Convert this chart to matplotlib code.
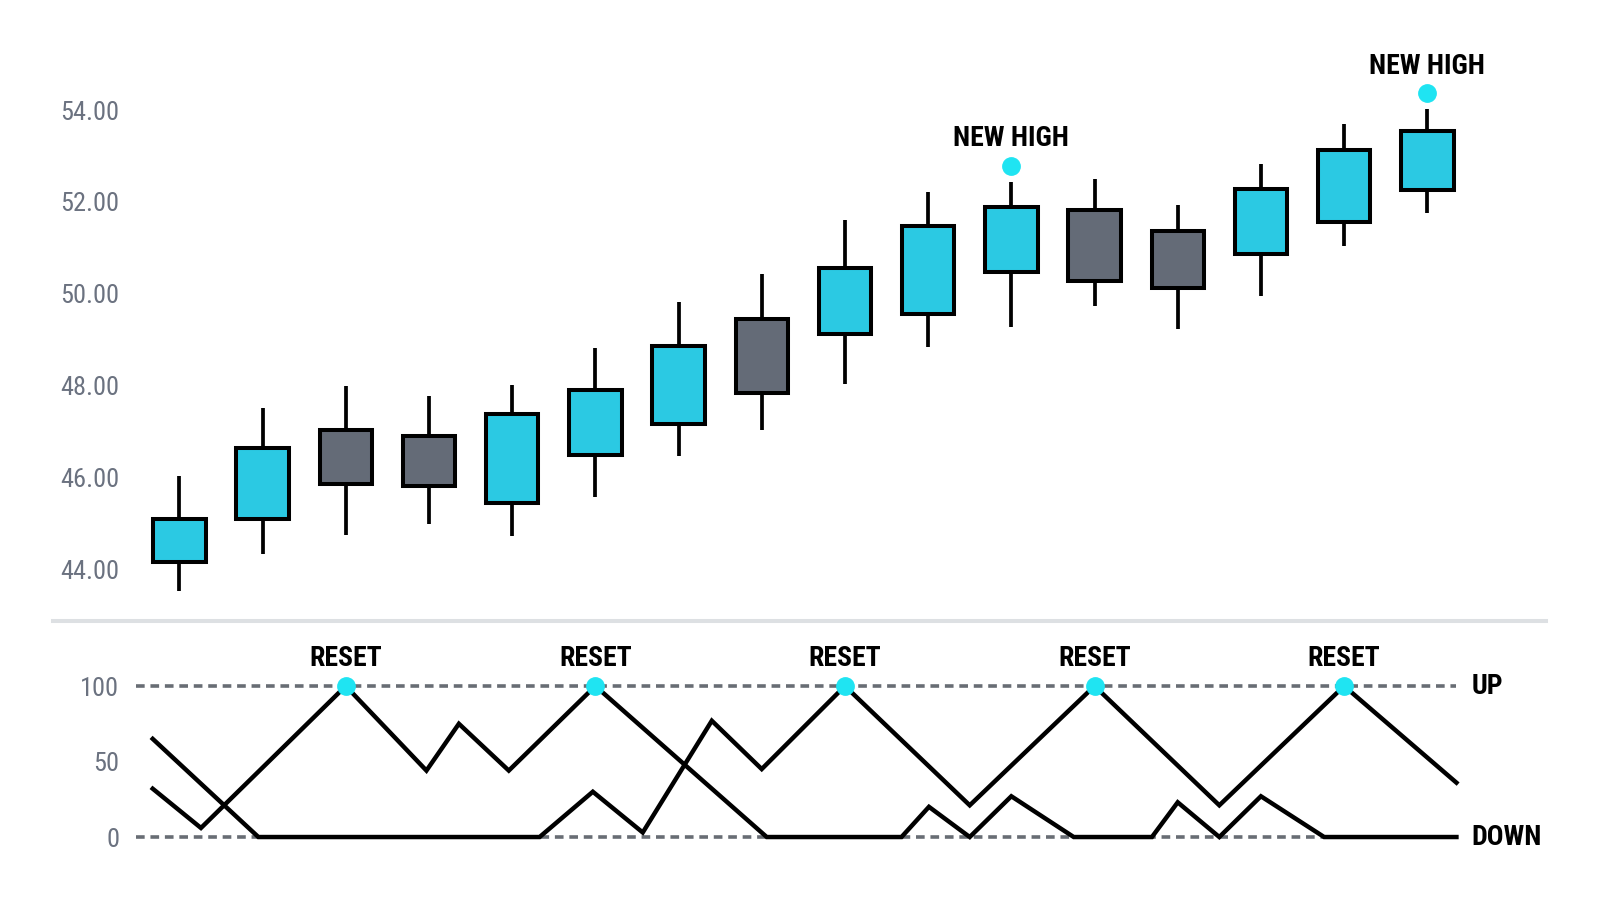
import matplotlib
matplotlib.use("Agg")
import matplotlib.pyplot as plt
from matplotlib.lines import Line2D
from matplotlib import font_manager

# candles
opens  = [44.15, 45.10, 47.04, 46.91, 45.45, 46.48, 47.17, 49.44, 49.12, 49.55, 50.48, 51.82, 51.36, 50.87, 51.57, 52.27]
closes = [45.10, 46.64, 45.86, 45.81, 47.37, 47.90, 48.86, 47.83, 50.56, 51.47, 51.89, 50.28, 50.12, 52.29, 53.13, 53.55]
highs  = [46.03, 47.50, 48.00, 47.78, 48.01, 48.81, 49.83, 50.42, 51.60, 52.22, 52.44, 52.50, 51.93, 52.82, 53.69, 54.02]
lows   = [43.52, 44.34, 44.75, 44.98, 44.72, 45.57, 46.46, 47.03, 48.04, 48.84, 49.28, 49.73, 49.23, 49.95, 51.04, 51.76]
new_high_idx = [10, 15]
price_ticks = [44, 46, 48, 50, 52, 54]

# oscillator lines (x in candle index units)
line_a_x = [-0.32, 0.95, 4.33, 4.97, 5.57, 6.40, 7.00, 8.0, 9.5, 11.0, 12.5, 14.0, 15.35]
line_a_y = [65, 0, 0, 30, 3, 77, 45, 100, 21, 100, 21, 100, 36]
line_b_x = [-0.32, 0.26, 2.0, 2.97, 3.36, 3.96, 5.0, 7.06, 8.68, 9.01, 9.5, 10.0, 10.75, 11.69, 12.0, 12.5, 13.0, 13.76, 15.35]
line_b_y = [32, 6, 100, 44, 75, 44, 100, 0, 0, 20, 0, 27, 0, 0, 23, 0, 27, 0, 0]
reset_x = [2, 5, 8, 11, 14]
osc_ticks = [0, 50, 100]

CYAN = '#2BC9E3'
GRAY = '#646B77'
DOT = '#1FE4F2'
TICK = '#6B7280'

names = {f.name for f in font_manager.fontManager.ttflist}
FONT = next((n for n in ['Roboto Condensed', 'Barlow Condensed', 'Archivo Narrow'] if n in names), 'Roboto')
plt.rcParams['font.family'] = [FONT, 'DejaVu Sans']

fig = plt.figure(figsize=(16, 9.14), dpi=100)
L, W = 130 / 1600, 1340 / 1600
ax1 = fig.add_axes([L, 0.3206, W, 0.6794])
ax2 = fig.add_axes([L, 0.01532, W, 0.2954])

xs = list(range(len(opens)))
colors = [CYAN if c > o else GRAY for o, c in zip(opens, closes)]
ax1.vlines(xs, lows, highs, color='black', linewidth=2.7, zorder=2)
ax1.bar(xs, [c - o for o, c in zip(opens, closes)], bottom=opens, width=0.63,
        color=colors, edgecolor='black', linewidth=2.9, zorder=3)

for i in new_high_idx:
    ax1.plot(i, highs[i] + 0.35, 'o', color=DOT, markersize=12.5, zorder=4)
    ax1.annotate('NEW HIGH', (i, highs[i] + 0.35), xytext=(0, 19.5), textcoords='offset points',
                 ha='center', va='center', fontsize=20, fontweight='bold', color='black')

ax1.set_xlim(-0.593, 15.513)
ax1.set_ylim(42.87, 56.40)
ax1.set_yticks(price_ticks)
ax1.set_yticklabels([f'{t:.2f}' for t in price_ticks])

# oscillator
ax2.hlines([0, 100], -0.52, 15.35, colors='#686D74', linewidth=2.6,
           linestyles=(0, (2.4, 1.6)), zorder=1)
ax2.plot(line_a_x, line_a_y, color='black', linewidth=3.2, solid_joinstyle='miter', zorder=2)
ax2.plot(line_b_x, line_b_y, color='black', linewidth=3.2, solid_joinstyle='miter', zorder=2)
ax2.plot(reset_x, [100] * len(reset_x), 'o', color=DOT, markersize=12.5, zorder=3)
for x in reset_x:
    ax2.annotate('RESET', (x, 100), xytext=(0, 19.5), textcoords='offset points',
                 ha='center', va='center', fontsize=20, fontweight='bold', color='black')
ax2.annotate('UP', (15.35, 100), xytext=(11, 0), textcoords='offset points',
             ha='left', va='center', fontsize=20, fontweight='bold', annotation_clip=False)
ax2.annotate('DOWN', (15.35, 0), xytext=(11, 0), textcoords='offset points',
             ha='left', va='center', fontsize=20, fontweight='bold', annotation_clip=False)

ax2.set_xlim(-0.593, 15.513)
ax2.set_ylim(-41.7, 137.1)
ax2.set_yticks(osc_ticks)

for ax in (ax1, ax2):
    for s in ax.spines.values():
        s.set_visible(False)
    ax.set_xticks([])
    ax.tick_params(axis='y', length=0, pad=7.9, labelsize=19, labelcolor=TICK)
    ax.patch.set_alpha(0)

fig.add_artist(Line2D([53 / 1600, 1546 / 1600], [(914 - 621) / 914] * 2,
                      transform=fig.transFigure, color='#DDE0E3', linewidth=2.9))

fig.savefig('out.png', dpi=100)
